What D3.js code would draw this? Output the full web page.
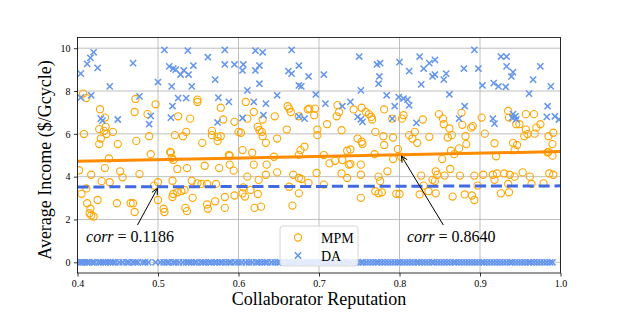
<!DOCTYPE html>
<html>
<head>
<meta charset="utf-8">
<script src="https://cdn.jsdelivr.net/npm/d3@7"></script>
<style>
  body { margin: 0; background: #fff; }
  svg { display: block; }
  .tick text { font-family: "Liberation Serif", serif; font-size: 10px; fill: #000; }
</style>
</head>
<body>
<div id="main"></div>
<script>
// MPM income per collaborator reputation (orange circles)
const mpmPoints = [
  [0.407,7.88],[0.411,7.67],[0.428,7.15],[0.434,6.76],[0.435,6.33],[0.427,6.22],[0.433,6.14],[0.436,5.99],
  [0.408,5.99],[0.444,6.09],[0.429,5.78],[0.427,5.52],[0.450,5.52],[0.472,7.63],[0.471,7.02],[0.497,7.38],
  [0.487,6.92],[0.489,5.89],[0.473,5.67],[0.491,5.05],[0.525,6.82],[0.540,6.71],[0.521,5.94],[0.531,5.89],
  [0.535,6.09],[0.555,5.58],[0.549,7.60],[0.549,7.49],[0.578,7.22],[0.581,6.67],[0.567,6.14],[0.567,5.94],
  [0.574,5.86],[0.578,5.89],[0.574,5.67],[0.515,5.16],[0.588,5.01],[0.595,6.56],[0.600,6.09],[0.439,4.85],
  [0.402,4.30],[0.516,5.13],[0.517,4.87],[0.519,4.78],[0.434,4.40],[0.417,4.09],[0.453,4.25],[0.456,3.97],
  [0.477,4.12],[0.430,3.79],[0.440,3.74],[0.405,3.20],[0.411,3.45],[0.412,2.76],[0.425,2.91],[0.416,2.50],
  [0.415,2.29],[0.417,2.19],[0.420,2.14],[0.449,2.76],[0.466,2.76],[0.469,2.76],[0.471,2.35],[0.500,3.74],
  [0.495,3.58],[0.500,2.91],[0.507,2.50],[0.508,2.35],[0.518,3.81],[0.524,4.36],[0.536,4.40],[0.519,3.19],
  [0.524,3.27],[0.529,3.32],[0.533,3.38],[0.518,3.05],[0.543,3.01],[0.534,2.54],[0.536,2.39],[0.542,3.81],
  [0.549,3.69],[0.558,4.51],[0.576,4.40],[0.589,4.56],[0.589,4.98],[0.554,3.66],[0.561,3.66],[0.572,3.66],
  [0.561,2.70],[0.562,2.50],[0.571,2.85],[0.583,2.54],[0.583,3.05],[0.595,3.12],[0.594,4.28],
  [0.609,7.49],[0.619,7.02],[0.611,6.71],[0.630,6.67],[0.645,6.82],[0.624,6.33],[0.626,6.17],[0.629,6.09],
  [0.603,6.05],[0.630,5.89],[0.648,5.78],[0.660,6.20],[0.634,5.58],[0.605,5.24],[0.617,5.12],[0.661,7.29],
  [0.663,7.18],[0.665,7.02],[0.675,6.82],[0.686,7.14],[0.688,7.18],[0.695,7.18],[0.694,6.87],[0.698,6.20],
  [0.698,5.94],[0.710,6.45],[0.728,6.17],[0.682,5.40],[0.677,5.24],[0.723,7.34],[0.725,7.02],[0.722,6.82],
  [0.743,7.14],[0.753,7.22],[0.758,7.02],[0.762,6.92],[0.765,6.79],[0.766,6.67],[0.781,7.14],[0.791,6.71],
  [0.770,6.09],[0.780,5.89],[0.748,5.78],[0.753,5.63],[0.754,5.52],[0.739,5.27],[0.781,5.48],[0.792,5.83],
  [0.706,5.01],[0.644,4.93],[0.675,5.02],[0.735,5.21],[0.619,4.56],[0.635,4.56],[0.634,4.09],[0.648,4.20],
  [0.611,4.00],[0.625,3.85],[0.668,4.09],[0.675,3.94],[0.678,3.89],[0.687,3.71],[0.663,3.53],[0.706,3.63],
  [0.697,4.17],[0.713,4.62],[0.720,4.74],[0.729,4.78],[0.737,4.56],[0.739,4.59],[0.752,4.56],[0.728,4.15],
  [0.735,3.94],[0.752,4.09],[0.774,4.00],[0.776,3.79],[0.785,4.25],[0.792,4.82],[0.800,3.19],[0.770,3.32],
  [0.774,3.22],[0.778,3.27],[0.752,3.01],[0.606,3.50],[0.605,3.22],[0.608,3.07],[0.615,3.38],[0.624,3.19],
  [0.675,3.22],[0.620,2.54],[0.628,2.60],[0.667,2.65],[0.796,3.20],[0.769,5.05],[0.798,5.29],
  [0.802,4.93],[0.853,4.82],[0.864,5.21],[0.984,5.13],[0.990,4.98],[0.827,4.05],[0.845,4.25],[0.847,4.09],
  [0.844,3.79],[0.856,4.05],[0.863,4.36],[0.875,4.05],[0.893,4.05],[0.904,4.09],[0.916,4.09],[0.921,4.15],
  [0.930,4.15],[0.937,4.09],[0.953,4.20],[0.962,4.00],[0.986,4.15],[0.991,4.09],[0.830,3.58],[0.841,3.85],
  [0.836,3.32],[0.845,3.22],[0.825,3.17],[0.866,3.07],[0.881,3.17],[0.890,3.12],[0.893,2.91],[0.897,3.58],
  [0.926,3.22],[0.936,3.27],[0.935,3.66],[0.964,3.66],[0.979,3.69],[0.918,3.85],[0.943,4.00],[0.920,4.95],
  [0.868,5.05],[0.805,6.87],[0.803,6.71],[0.829,6.67],[0.819,6.09],[0.812,5.94],[0.816,5.78],[0.822,5.58],
  [0.837,5.86],[0.849,6.92],[0.854,6.71],[0.855,6.45],[0.862,6.25],[0.865,5.94],[0.860,5.83],[0.877,6.98],
  [0.878,6.42],[0.889,6.29],[0.882,5.89],[0.883,5.52],[0.874,5.32],[0.891,6.36],[0.902,6.76],[0.906,6.01],
  [0.918,5.56],[0.935,7.07],[0.936,6.76],[0.945,6.45],[0.949,6.45],[0.957,6.92],[0.967,6.92],[0.975,6.45],
  [0.970,6.29],[0.957,6.20],[0.959,5.99],[0.955,5.89],[0.968,6.01],[0.985,5.89],[0.991,6.05],[0.990,5.52],
  [0.941,5.58],[0.946,5.48],[0.943,5.24],[0.985,5.16]
];

// DA income, non-zero part (blue crosses)
const daPoints = [
  [0.420,9.81],[0.416,9.55],[0.412,9.27],[0.404,8.81],[0.425,9.08],[0.469,9.30],[0.440,8.22],[0.404,7.69],
  [0.417,7.80],[0.477,7.75],[0.429,6.71],[0.431,6.62],[0.450,6.67],[0.491,6.84],[0.489,6.45],[0.508,9.92],
  [0.537,9.89],[0.562,9.58],[0.583,9.92],[0.514,9.15],[0.519,9.05],[0.522,9.00],[0.532,8.96],[0.528,8.77],
  [0.538,8.77],[0.544,9.19],[0.500,8.42],[0.517,8.22],[0.542,8.22],[0.571,8.53],[0.583,9.24],[0.595,9.24],
  [0.525,7.67],[0.535,7.67],[0.518,7.30],[0.516,6.76],[0.575,7.69],[0.588,7.49],[0.574,6.53],
  [0.621,9.89],[0.630,9.81],[0.666,9.92],[0.606,9.24],[0.605,8.96],[0.621,8.96],[0.626,9.19],[0.626,8.34],
  [0.662,8.93],[0.666,8.81],[0.675,9.19],[0.687,8.68],[0.675,8.26],[0.678,8.22],[0.611,8.03],[0.648,7.80],
  [0.619,7.49],[0.634,7.41],[0.605,6.74],[0.631,6.87],[0.675,6.82],[0.682,6.71],[0.696,7.84],[0.706,8.77],
  [0.708,7.41],[0.729,7.29],[0.739,7.49],[0.750,9.61],[0.752,8.03],[0.772,9.24],[0.776,9.30],[0.775,8.68],
  [0.774,8.34],[0.800,9.35],[0.784,7.80],[0.794,7.29],[0.799,7.72],[0.748,6.79],[0.754,6.56],[0.752,6.68],
  [0.791,6.71],[0.893,9.92],[0.926,9.61],[0.933,9.61],[0.825,9.61],[0.844,9.46],[0.837,9.30],[0.830,9.05],
  [0.812,8.93],[0.841,8.68],[0.844,8.77],[0.858,8.81],[0.855,8.53],[0.827,8.31],[0.880,9.05],[0.898,9.05],
  [0.933,9.15],[0.941,8.88],[0.939,8.68],[0.975,9.15],[0.966,8.53],[0.988,8.22],[0.903,8.26],[0.917,8.37],
  [0.923,8.22],[0.932,8.19],[0.862,7.84],[0.805,7.65],[0.810,7.60],[0.812,7.33],[0.961,7.88],[0.881,7.29],
  [0.874,6.71],[0.821,6.51],[0.916,6.71],[0.918,6.48],[0.941,6.92],[0.944,6.82],[0.940,6.76],[0.945,6.68],
  [0.984,7.29],[0.983,6.79],[0.993,6.82],[0.998,6.67]
];

// DA collaborators that earned nothing (row at y = 0)
const daZeroX = [
  0.401,0.404,0.406,0.409,0.412,0.414,0.418,0.421,0.426,0.429,0.432,0.435,0.438,0.441,0.444,0.447,
  0.452,0.456,0.461,0.464,0.469,0.472,0.475,0.481,0.484,0.488,0.497,0.503,0.507,0.511,0.514,0.519,
  0.522,0.526,0.531,0.535,0.538,0.541,0.545,0.548,0.553,0.556,0.559,0.563,0.566,0.570,0.573,0.577,
  0.580,0.584,0.588,0.591,0.596,0.600,0.604,0.609,0.613,0.617,0.622,0.625,0.629,0.633,0.636,0.641,
  0.645,0.649,0.652,0.656,0.661,0.664,0.668,0.672,0.677,0.681,0.685,0.689,0.693,0.697,0.701,0.705,
  0.709,0.712,0.716,0.720,0.724,0.728,0.731,0.735,0.739,0.744,0.748,0.752,0.755,0.759,0.763,0.767,
  0.771,0.774,0.778,0.782,0.786,0.790,0.794,0.798,0.801,0.805,0.809,0.813,0.817,0.821,0.824,0.828,
  0.832,0.836,0.840,0.843,0.847,0.851,0.855,0.859,0.863,0.867,0.870,0.874,0.878,0.882,0.886,0.890,
  0.894,0.898,0.902,0.905,0.909,0.913,0.917,0.921,0.925,0.929,0.933,0.937,0.940,0.944,0.948,0.952,
  0.956,0.960,0.963,0.967,0.971,0.975,0.979,0.983,0.987,0.990
];

// fitted trend lines (endpoints at x = 0.4 and x = 1.0)
const mpmFit = [[0.4, 4.72], [1.0, 5.17]];
const daFit = [[0.4, 3.52], [1.0, 3.57]];

const xTicks = [0.4, 0.5, 0.6, 0.7, 0.8, 0.9, 1.0];
const yTicks = [0, 2, 4, 6, 8, 10];

// annotations: text anchor, arrow start, arrow tip (data units)
const notes = [
  { value: "0.1186", text: [0.4106, 0.95], from: [0.4745, 1.74], to: [0.4993, 3.45] },
  { value: "0.8640", text: [0.8093, 0.95], from: [0.8545, 1.74], to: [0.8025, 4.96] },
];

const W = 623, H = 312;
const MPM_COLOR = "#FFA500";
const DA_COLOR = "#6495ED";

const svg = d3.select("#main").append("svg").attr("width", W).attr("height", H);

const x = d3.scaleLinear().domain([0.4, 1.0]).range([77.5, 560.5]);
const y = d3.scaleLinear().domain([-0.5, 10.5]).range([273, 37.5]);
const [x0, x1] = x.range();
const [y0, y1] = y.range();

// grid
const grid = svg.append("g").attr("stroke", "#b0b0b0").attr("stroke-width", 0.8);
grid.selectAll(".gx").data(xTicks).join("line")
  .attr("x1", (d) => x(d)).attr("x2", (d) => x(d)).attr("y1", y0).attr("y2", y1);
grid.selectAll(".gy").data(yTicks).join("line")
  .attr("x1", x0).attr("x2", x1).attr("y1", (d) => y(d)).attr("y2", (d) => y(d));

// clip for marks
svg.append("clipPath").attr("id", "plot-clip")
  .append("rect").attr("x", x0).attr("y", y1).attr("width", x1 - x0).attr("height", y0 - y1);

const marks = svg.append("g").attr("clip-path", "url(#plot-clip)");

marks.append("g").selectAll("circle").data(mpmPoints).join("circle")
  .attr("cx", (d) => x(d[0])).attr("cy", (d) => y(d[1])).attr("r", 3.6)
  .attr("fill", "none").attr("stroke", MPM_COLOR).attr("stroke-width", 1.1);

const crossPath = (cx, cy, s) => `M${cx - s},${cy - s}L${cx + s},${cy + s}M${cx - s},${cy + s}L${cx + s},${cy - s}`;

const daAll = daPoints.concat(daZeroX.map((v) => [v, 0]));
marks.append("g").selectAll("path").data(daAll).join("path")
  .attr("d", (d) => crossPath(x(d[0]), y(d[1]), 3.1))
  .attr("stroke", DA_COLOR).attr("stroke-width", 1.5).attr("fill", "none");

const line = d3.line().x((d) => x(d[0])).y((d) => y(d[1]));
marks.append("path").datum(mpmFit).attr("d", line)
  .attr("stroke", "#FF8C00").attr("stroke-width", 3).attr("fill", "none");
marks.append("path").datum(daFit).attr("d", line)
  .attr("stroke", "#4169E1").attr("stroke-width", 3).attr("fill", "none")
  .attr("stroke-dasharray", "11.1,4.8");

// annotations
const ann = svg.append("g");
notes.forEach((n) => {
  const sx = x(n.from[0]), sy = y(n.from[1]);
  const tx = x(n.to[0]), ty = y(n.to[1]);
  const ang = Math.atan2(ty - sy, tx - sx);
  const hl = 6, hw = 3;
  const bx = tx - hl * Math.cos(ang), by = ty - hl * Math.sin(ang);
  const px = -Math.sin(ang) * hw, py = Math.cos(ang) * hw;
  ann.append("path")
    .attr("d", `M${sx},${sy}L${tx},${ty}M${bx + px},${by + py}L${tx},${ty}L${bx - px},${by - py}`)
    .attr("stroke", "#000").attr("stroke-width", 1).attr("fill", "none");
  const t = ann.append("text")
    .attr("x", x(n.text[0])).attr("y", y(n.text[1]))
    .attr("font-family", "Liberation Serif, serif").attr("font-size", 16);
  t.append("tspan").attr("font-style", "italic").text("corr");
  t.append("tspan").text(" = " + n.value);
});

// legend
const leg = svg.append("g").attr("transform", "translate(280,226)");
leg.append("rect").attr("width", 78).attr("height", 40).attr("rx", 3)
  .attr("fill", "#fff").attr("fill-opacity", 0.8).attr("stroke", "#cccccc").attr("stroke-width", 0.8);
leg.append("circle").attr("cx", 18).attr("cy", 11.5).attr("r", 3.6)
  .attr("fill", "none").attr("stroke", MPM_COLOR).attr("stroke-width", 1.1);
leg.append("path").attr("d", crossPath(18, 29.5, 3.1))
  .attr("stroke", DA_COLOR).attr("stroke-width", 1.5);
leg.selectAll("text").data(["MPM", "DA"]).join("text")
  .attr("x", 41).attr("y", (d, i) => 16.5 + i * 18.5)
  .attr("font-family", "Liberation Serif, serif").attr("font-size", 14).text((d) => d);

// axes
svg.append("g").attr("transform", `translate(0,${y0})`)
  .call(d3.axisBottom(x).tickValues(xTicks).tickFormat(d3.format(".1f")).tickSize(3.5).tickPadding(3.5))
  .call((g) => g.select(".domain").remove());
svg.append("g").attr("transform", `translate(${x0},0)`)
  .call(d3.axisLeft(y).tickValues(yTicks).tickFormat(d3.format("d")).tickSize(3.5).tickPadding(3.5))
  .call((g) => g.select(".domain").remove());
svg.selectAll(".tick line").attr("stroke", "#000").attr("stroke-width", 0.8);

svg.append("rect").attr("x", x0).attr("y", y1).attr("width", x1 - x0).attr("height", y0 - y1)
  .attr("fill", "none").attr("stroke", "#000").attr("stroke-width", 0.8);

// axis titles
svg.append("text").attr("x", 319).attr("y", 305).attr("text-anchor", "middle")
  .attr("font-family", "Liberation Serif, serif").attr("font-size", 18).text("Collaborator Reputation");
svg.append("text").attr("transform", "translate(51,160) rotate(-90)").attr("text-anchor", "middle")
  .attr("font-family", "Liberation Serif, serif").attr("font-size", 18).text("Average Income ($/Gcycle)");
</script>
</body>
</html>
